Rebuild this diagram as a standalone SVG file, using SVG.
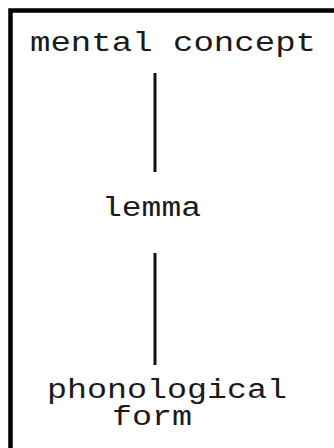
<svg xmlns="http://www.w3.org/2000/svg" width="334" height="448" viewBox="0 0 334 448">
<style>
.lbl{font-family:"Liberation Mono","DejaVu Sans Mono",monospace;font-size:27px;fill:#1a1a1a}
.conn{stroke:#111;stroke-width:3;fill:none}
.frame{stroke:#000;stroke-width:4.5;fill:none}
</style>
<rect width="334" height="448" fill="#fff"/>
<rect class="frame" x="10.5" y="10.5" width="340" height="460"/>
<g id="connectors">
<line class="conn" x1="155" y1="73" x2="155" y2="172"/>
<line class="conn" x1="155" y1="253" x2="155" y2="365"/>
</g>
<g id="mental-concept">
<text class="lbl" x="30" y="51" textLength="286" lengthAdjust="spacingAndGlyphs">mental concept</text>
</g>
<g id="lemma">
<text class="lbl" x="102" y="216" textLength="99" lengthAdjust="spacingAndGlyphs">lemma</text>
</g>
<g id="phonological-form">
<text class="lbl" x="47" y="398" textLength="240" lengthAdjust="spacingAndGlyphs">phonological</text>
<text class="lbl" x="112" y="425" textLength="80" lengthAdjust="spacingAndGlyphs">form</text>
</g>
</svg>
